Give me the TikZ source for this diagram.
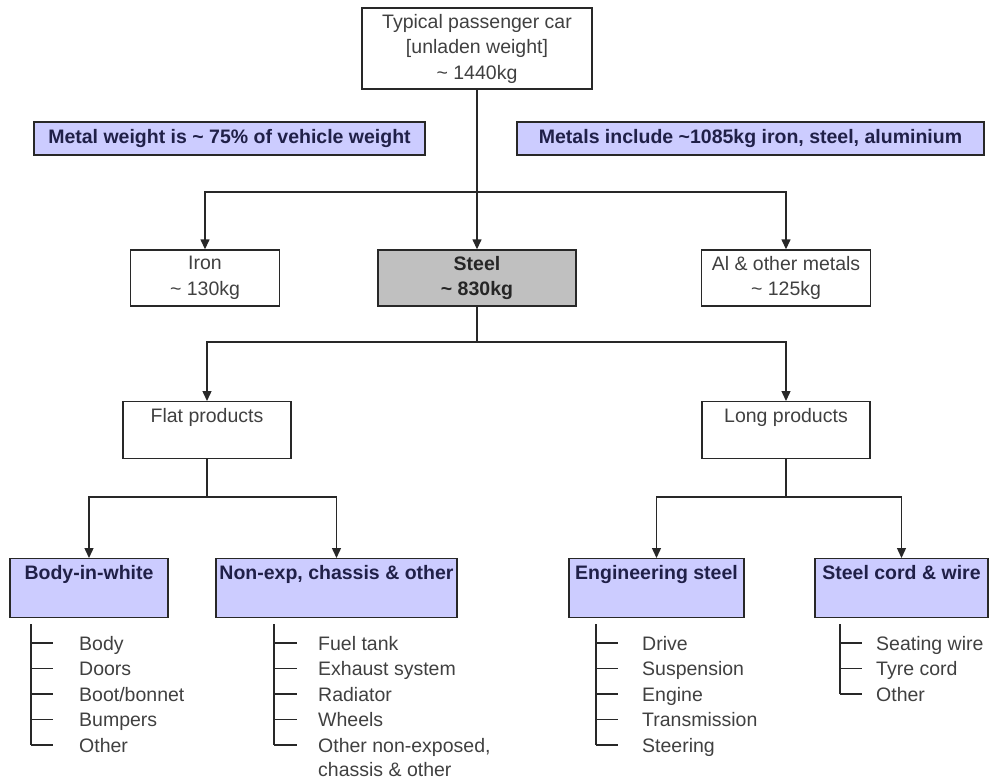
\documentclass[tikz,border=0pt]{standalone}
\usepackage{fontspec}
\setmainfont{Liberation Sans}
\usetikzlibrary{arrows.meta}
\definecolor{lav}{RGB}{204,204,255}
\definecolor{navy}{RGB}{32,32,72}
\definecolor{txt}{RGB}{64,64,64}
\definecolor{grayfill}{RGB}{192,192,192}
\definecolor{ln}{RGB}{40,40,40}
\begin{document}
\begin{tikzpicture}[x=1pt,y=-1pt,
  font=\fontsize{19.5}{25.5}\selectfont,
  box/.style={draw=ln, line width=1.4pt, align=center, text=txt, inner sep=0pt},
  note/.style={draw=ln, line width=1.4pt, fill=lav, text=navy, font=\fontsize{19.5}{25.5}\selectfont\bfseries, inner sep=0pt, minimum height=33pt},
  tallbox/.style={box, anchor=north, text height=17pt, text depth=32pt, inner ysep=4pt},
  cat/.style={draw=ln, line width=1.4pt, fill=lav, text=navy, font=\fontsize{19.5}{25.5}\selectfont\bfseries, anchor=north, inner xsep=0pt, inner ysep=4pt, text height=17pt, text depth=34pt},
  item/.style={anchor=base west, text=txt, inner sep=0pt},
  conn/.style={draw=ln, line width=1.4pt},
  arr/.style={conn, -{Triangle[width=9pt,length=10pt]}},
  tick/.style={draw=ln, line width=1.4pt}
]
\useasboundingbox (0,0) rectangle (989,780);

% top level
\node[box, minimum width=230pt, minimum height=81pt] (top) at (477,48.5)
  {Typical passenger car\\{[unladen weight]}\\\textasciitilde{} 1440kg};
\node[note, minimum width=391pt] (n1) at (229.5,138.5) {Metal weight is \textasciitilde{} 75\% of vehicle weight};
\node[note, minimum width=467pt] (n2) at (750.5,138.5) {Metals include \textasciitilde1085kg iron, steel, aluminium};

% metals
\node[box, minimum width=149pt, minimum height=56pt] (iron) at (205,278) {Iron\\\textasciitilde{} 130kg};
\node[box, fill=grayfill, text=black!85, font=\fontsize{19.5}{25.5}\selectfont\bfseries, minimum width=198pt, minimum height=56pt] (steel) at (477,278) {Steel\\\textasciitilde{} 830kg};
\node[box, minimum width=169pt, minimum height=56pt] (al) at (786,278) {Al \& other metals\\\textasciitilde{} 125kg};

% products
\node[tallbox, minimum width=168pt] (flat) at (207,401) {Flat products};
\node[tallbox, minimum width=168pt] (long) at (786,401) {Long products};

% categories
\node[cat, minimum width=158pt] (biw) at (89,558) {Body-in-white};
\node[cat, minimum width=241pt] (nonexp) at (336.5,558) {Non-exp, chassis \& other};
\node[cat, minimum width=175pt] (eng) at (656.5,558) {Engineering steel};
\node[cat, minimum width=173pt] (cord) at (901.5,558) {Steel cord \& wire};

% connectors
\coordinate (j1) at (477,192);
\coordinate (j2) at (477,342);
\coordinate (j3) at (207,497);
\coordinate (j4) at (786,497);
\draw[arr] (top) -- (steel);
\draw[arr] (j1) -| (iron);
\draw[arr] (j1) -| (al);
\draw[conn] (steel) -- (j2);
\draw[arr] (j2) -| (flat);
\draw[arr] (j2) -| (long);
\draw[conn] (flat) -- (j3);
\draw[arr] (j3) -| (biw);
\draw[arr] (j3) -| (nonexp);
\draw[conn] (long) -- (j4);
\draw[arr] (j4) -| (eng);
\draw[arr] (j4) -| (cord);

% lists
\draw[tick] (31,624) -- (31,745);
\foreach \t [count=\i from 0] in {Body,Doors,Boot/bonnet,Bumpers,Other} {
  \node[item] (biw\i) at (79,650+25.5*\i) {\t};
  \draw[tick] (31,643+25.5*\i) -- (53,643+25.5*\i);
}
\draw[tick] (274,624) -- (274,745);
\foreach \t [count=\i from 0] in {Fuel tank,Exhaust system,Radiator,Wheels,{Other non-exposed,}} {
  \node[item] (ne\i) at (318,650+25.5*\i) {\t};
  \draw[tick] (274,643+25.5*\i) -- (297,643+25.5*\i);
}
\node[item] (ne5) at (318,776) {chassis \& other};
\draw[tick] (596,624) -- (596,745);
\foreach \t [count=\i from 0] in {Drive,Suspension,Engine,Transmission,Steering} {
  \node[item] (en\i) at (642,650+25.5*\i) {\t};
  \draw[tick] (596,643+25.5*\i) -- (618,643+25.5*\i);
}
\draw[tick] (840,624) -- (840,694);
\foreach \t [count=\i from 0] in {Seating wire,Tyre cord,Other} {
  \node[item] (sc\i) at (876,650+25.5*\i) {\t};
  \draw[tick] (840,643+25.5*\i) -- (862,643+25.5*\i);
}
\end{tikzpicture}
\end{document}
